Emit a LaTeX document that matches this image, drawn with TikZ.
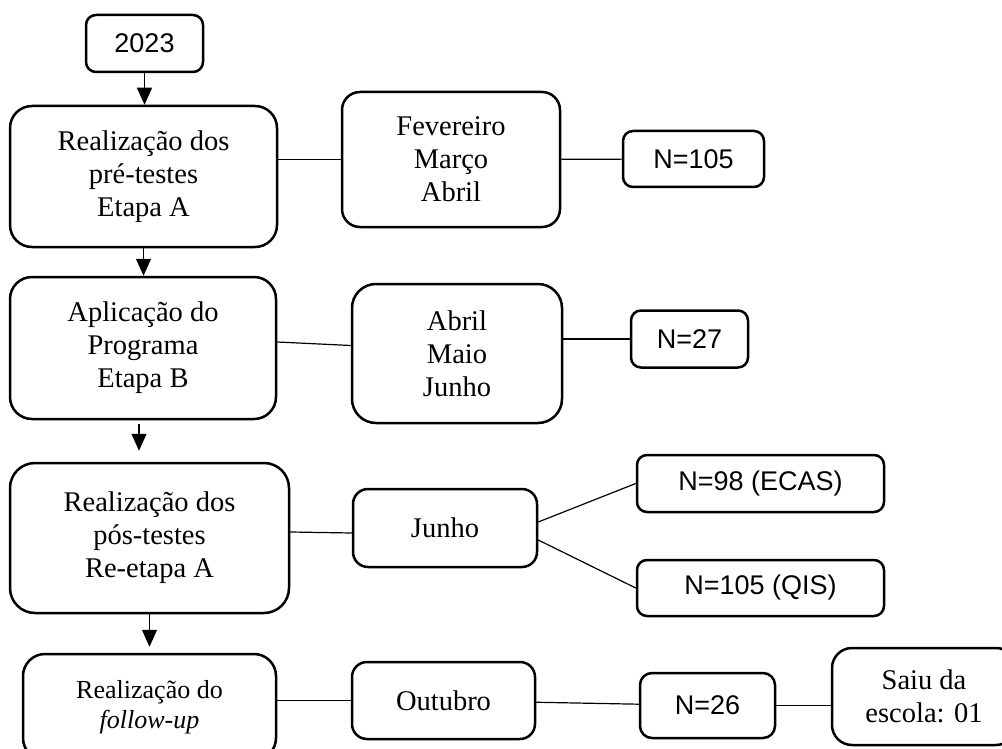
\documentclass[tikz,border=0pt]{standalone}
\usepackage{fontspec}
\setmainfont{Liberation Serif}
\setsansfont{Liberation Sans}
\usetikzlibrary{positioning,arrows.meta}

\begin{document}
\begin{tikzpicture}[x=1pt,y=-1pt,
  box/.style={draw,line width=2.5pt,align=center,inner sep=0pt,rounded corners=#1},
  stage/.style={box=22pt,font=\fontsize{28.5}{33}\selectfont},
  period/.style={box=18pt,font=\fontsize{28.5}{33}\selectfont},
  count/.style={box=10pt,font=\sffamily\fontsize{27}{32}\selectfont},
  link/.style={line width=1.2pt},
  flow/.style={line width=1.2pt,-{Triangle[width=15pt,length=17pt]}}
]
\useasboundingbox (0,0) rectangle (1002,749);
\clip (0,0) rectangle (1002,749);
%
\node[count,minimum width=117pt,minimum height=57pt] (y2023) at (144.5,43.5) {2023};
\node[stage,minimum width=267pt,minimum height=141pt] (preA) at (143.5,176.5) {Realização dos\\pré-testes\\Etapa A};
\node[period,minimum width=218pt,minimum height=135pt] (mesesA) at (451,159.5) {Fevereiro\\Março\\Abril};
\node[count,minimum width=141pt,minimum height=56pt] (nA) at (693.5,159) {N=105};
%
\node[stage,minimum width=266pt,minimum height=142pt] (progB) at (143,348) {Aplicação do\\Programa\\Etapa B};
\node[period,box=24pt,minimum width=210pt,minimum height=139pt] (mesesB) at (457,353.5) {Abril\\Maio\\Junho};
\node[count,minimum width=117pt,minimum height=57pt] (nB) at (689.5,339) {N=27};
%
\node[stage,box=25pt,minimum width=279pt,minimum height=150pt] (posA) at (149.5,538) {Realização dos\\pós-testes\\Re-etapa A};
\node[period,box=15pt,minimum width=184pt,minimum height=78pt] (junho) at (445,528) {Junho};
\node[count,minimum width=247pt,minimum height=57pt] (nECAS) at (760.5,483.5) {N=98 (ECAS)};
\node[count,minimum width=247pt,minimum height=56pt] (nQIS) at (760.5,588) {N=105 (QIS)};
%
\node[stage,minimum width=253pt,minimum height=106pt,font=\fontsize{26}{30}\selectfont] (followup) at (149.5,707) {Realização do\\\textit{follow-up}};
\node[period,box=15pt,minimum width=183pt,minimum height=77pt] (outubro) at (443.5,700.5) {Outubro};
\node[count,box=12pt,minimum width=135pt,minimum height=65pt] (n26) at (707.5,705.5) {N=26};
\node[period,box=20pt,minimum width=184pt,minimum height=97pt] (saiu) at (924,696.5) {Saiu da\\escola: 01};
%
% etapas
\draw[flow] (y2023) -- (y2023 |- preA.north);
\draw[flow] (preA) -- (preA |- progB.north);
\draw[flow,shorten <=4pt,shorten >=11pt] ([xshift=-4pt]progB.south) -- ([xshift=-4pt]progB.south |- posA.north);
\draw[flow,shorten >=6pt] (posA) -- (posA |- followup.north);
%
% ligacoes
\draw[link] (mesesA.west -| preA.east) -- (mesesA.west);
\draw[link] (mesesA) -- (nA);
\draw[link] ([yshift=6pt]progB.east) -- ([yshift=8pt]mesesB.west);
\draw[link] (nB.west -| mesesB.east) -- (nB.west);
\draw[link] ([yshift=6pt]posA.east) -- ([yshift=-5pt]junho.west);
\draw[link] ([yshift=6pt]junho.east) -- (nECAS.west);
\draw[link] ([yshift=-12pt]junho.east) -- (nQIS.west);
\draw[link] (outubro.west -| followup.east) -- (outubro.west);
\draw[link] (outubro) -- (n26);
\draw[link] (n26.east) -- (n26.east -| saiu.west);
\end{tikzpicture}
\end{document}
